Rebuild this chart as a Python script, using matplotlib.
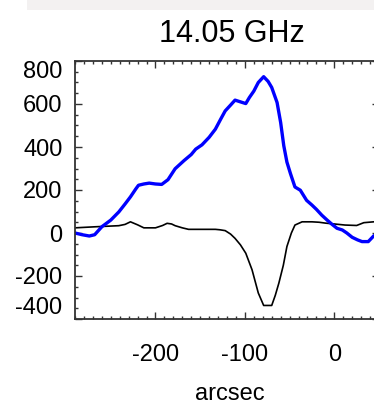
import numpy as np
import matplotlib
matplotlib.use('Agg')
import matplotlib.pyplot as plt
from matplotlib.patches import Rectangle
from matplotlib.ticker import MultipleLocator

plt.rcParams['font.family'] = ['Liberation Sans', 'DejaVu Sans']
plt.rcParams['axes.unicode_minus'] = False

# blue profile (arcsec, value)
blue_x = [-290, -282, -274, -268, -260, -250, -241, -234, -228, -222, -219, -213, -207,
          -200, -193, -186, -178, -168, -160, -155, -148, -140, -133, -127, -122, -116,
          -111, -105, -99, -95, -90, -85, -79, -74, -70, -64, -60, -56.5, -53, -49, -44,
          -38, -31, -25, -20, -14, -8, -3, 3, 9, 14, 20, 26, 31, 38, 44, 50]
blue_y = [0, -8, -14, -8, 29, 60, 98, 135, 168, 205, 222, 228, 232,
          228, 226, 248, 299, 337, 365, 390, 410, 445, 483, 530, 568, 595,
          618, 610, 602, 630, 660, 700, 727, 705, 677, 607, 514, 406, 330, 276, 214,
          199, 152, 130, 110, 83, 60, 42, 22, 14, 0, -20, -32, -40, -40, -14, 0]

# black profile
black_x = [-290, -267, -241, -234, -228, -220, -213, -200, -192, -187, -182, -178, -170,
           -163, -133, -128, -122, -116, -111, -105, -99, -92, -85, -79, -70, -66, -62,
           -57, -53, -48, -44, -36, -25, -17, -10, 0, 12, 25, 33, 44, 50]
black_y = [24, 29, 34, 40, 52, 38, 24, 24, 35, 45, 42, 34, 24,
           17, 17, 15, 11, -5, -25, -55, -94, -171, -279, -337, -337, -290, -233,
           -150, -63, 0, 37, 52, 52, 50, 46, 42, 37, 35, 48, 52, 52]

xticks = [-200, -100, 0]
xtick_labels = ['-200', '-100', '0']
yticks = [-400, -200, 0, 200, 400, 600, 800]
ytick_labels = ['-400', '-200', '0', '200', '400', '600', '800']

fig = plt.figure(figsize=(3.74, 4.05), dpi=100)
# light band at the very top of the image
fig.add_artist(Rectangle((27 / 374, 395 / 405), 347 / 374, 10 / 405,
                         transform=fig.transFigure, color='#f3f1f1', lw=0))

ax = fig.add_axes([75 / 374, 86 / 405, 304 / 374, 258 / 405])
ax.plot(black_x, black_y, color='black', lw=1.2)
ax.plot(blue_x, blue_y, color='#0000ff', lw=2.4)

ax.set_xlim(-290, 50)
ax.set_ylim(-400, 800)
ax.set_xticks(xticks, labels=xtick_labels)
ax.set_yticks(yticks, labels=ytick_labels)
ax.xaxis.set_minor_locator(MultipleLocator(10))
ax.yaxis.set_minor_locator(MultipleLocator(50))
ax.tick_params(which='both', direction='in', top=True, right=True, colors='#333333',
               labelcolor='black', labelsize=17, width=1)
ax.tick_params(which='major', length=5)
ax.tick_params(which='minor', length=2.5)
ax.tick_params(axis='x', pad=18)
ax.tick_params(axis='y', pad=9)
for lbl in ax.get_yticklabels():
    if lbl.get_text() == '800':
        lbl.set_va('top')
    elif lbl.get_text() == '-400':
        lbl.set_va('bottom')
for s in ax.spines.values():
    s.set_color('#333333')
    s.set_linewidth(1.3)

fig.text(232 / 374, (405 - 42) / 405, '14.05 GHz', ha='center', va='baseline', fontsize=22)
fig.text(230 / 374, (405 - 400) / 405, 'arcsec', ha='center', va='baseline', fontsize=17)

fig.savefig('out.png', dpi=100)
